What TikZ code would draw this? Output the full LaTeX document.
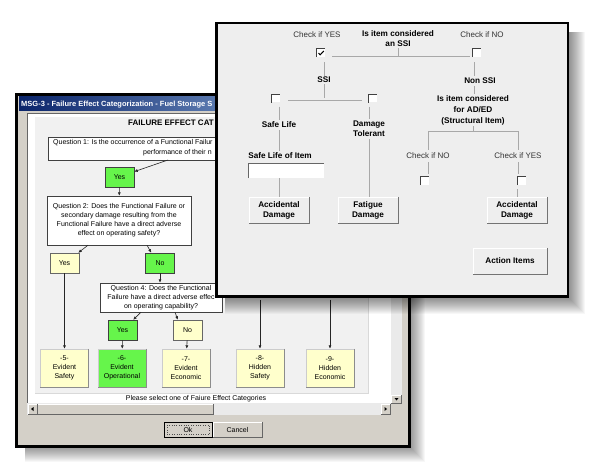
\documentclass[tikz,border=0pt]{standalone}
\usepackage{fontspec}
\setmainfont{Liberation Sans}
\usetikzlibrary{arrows.meta,calc}
\definecolor{wingray}{HTML}{D4D0C8}
\definecolor{panelc}{HTML}{F1F1F1}
\definecolor{frontc}{HTML}{EEEEEE}
\definecolor{gfill}{HTML}{66F54B}
\definecolor{yfill}{HTML}{FFFFCC}
\definecolor{tbdark}{HTML}{0A246A}
\definecolor{tblight}{HTML}{A6CAF0}
\definecolor{conn}{HTML}{A8A8A8}
\definecolor{trk}{HTML}{EAEAEA}
\begin{document}
\begin{tikzpicture}[x=1pt,y=-1pt,
  small/.style={font=\fontsize{7}{9}\selectfont},
  qbox/.style={draw=black!75, fill=white, small, align=center, inner sep=0pt},
  ansg/.style={draw=black!75, fill=gfill, small, minimum width=29pt, minimum height=20pt, inner sep=0pt},
  ansy/.style={draw=black!60, fill=yfill, small, minimum width=29pt, minimum height=20pt, inner sep=0pt},
  catbox/.style={draw=black!20, fill=yfill, small, align=center, minimum width=48pt, minimum height=38pt, inner sep=0pt},
  arr/.style={draw=black!85, line width=0.6pt, -{Latex[length=3.5pt,width=3pt]}},
  chk/.style={font=\fontsize{8}{10}\selectfont, text=black!80, inner sep=0pt},
  lbl/.style={font={\bfseries\fontsize{8.2}{10}\selectfont}, align=center, inner sep=0pt},
  cbox/.style={fill=white, minimum size=8pt, inner sep=0pt},
  btn/.style={fill=frontc, draw=white, font={\bfseries\fontsize{8.2}{10}\selectfont}, align=center, minimum height=26pt, minimum width=60pt, inner sep=0pt},
  sbtn/.style={fill=wingray, draw=white, inner sep=0pt},
  cline/.style={draw=conn, line width=0.7pt},
  bevd/.style={draw=black!55, line width=0.9pt},
]
\useasboundingbox (0,0) rectangle (592,473);
\fill[white] (0,0) rectangle (592,473);

% ---------- back window ----------
\foreach \i in {1,...,14} \fill[black,opacity=0.03] (25,103) rectangle (411+\i,448+\i);
\fill[black] (15,93) rectangle (411,448);
\fill[wingray] (18,96) rectangle (408,445);
\shade[left color=tbdark, right color=tblight] (19,97) rectangle (407,111);
\node[anchor=west, text=white, font={\bfseries\fontsize{7.5}{9}\selectfont}, inner sep=0pt] (ttl) at (21,104.5) {MSG-3 - Failure Effect Categorization - Fuel Storage S};

\fill[white] (27,113) rectangle (402,415);
\draw[black!60] (27,415) -- (27,113) -- (402,113);
\fill[panelc] (35,117) rectangle (368,393);
\draw[black!15] (35,393) -- (368,393) -- (368,117);

\node[anchor=west, font={\bfseries\fontsize{8}{9.6}\selectfont}, inner sep=0pt] (ft) at (128,123) {FAILURE EFFECT CAT};

\node[qbox, minimum width=220pt, minimum height=23pt, anchor=north west] (q1) at (48,137) {};
\node[small, anchor=west, inner sep=0pt] (q1a) at (53,143) {Question 1: Is the occurrence of a Functional Failur};
\node[small, anchor=west, inner sep=0pt] (q1b) at (143,152.5) {performance of their n};
\coordinate (q1o) at (168,160);

\node[ansg] (y1) at (119.5,177) {Yes};
\node[qbox, minimum width=144pt, minimum height=49pt] (q2) at (119,220.5) {Question 2: Does the Functional Failure or\\secondary damage resulting from the\\Functional Failure have a direct adverse\\effect on operating safety?};
\node[ansy] (y2) at (64.5,263) {Yes};
\node[ansg] (n2) at (160,263) {No};
\node[qbox, minimum width=122pt, minimum height=29pt] (q4) at (161,297.5) {Question 4: Does the Functional\\Failure have a direct adverse effec\\on operating capability?};
\node[ansg] (y4) at (122.5,330) {Yes};
\node[ansy] (n4) at (187.5,330) {No};

\node[catbox] (c5) at (64.5,368) {-5-\\Evident\\Safety};
\node[catbox, fill=gfill] (c6) at (122,368) {-6-\\Evident\\Operational};
\node[catbox] (c7) at (186,368) {-7-\\Evident\\Economic};
\node[catbox] (c8) at (260,368) {-8-\\Hidden\\Safety};
\node[catbox] (c9) at (330,368) {-9-\\Hidden\\Economic};
\foreach \n in {c5,c6,c7,c8,c9} \draw[draw=black!45, line width=1pt] (\n.north east) -- (\n.south east) -- (\n.south west);

\coordinate (t8) at (260,300);
\coordinate (t9) at (330,300);
\draw[arr] (q1o) -- (y1.20);
\draw[arr] (y1) -- (q2);
\draw[arr] ([xshift=-31pt]q2.south) -- ([xshift=-1pt]y2.north east);
\draw[arr] ([xshift=28pt]q2.south) -- ([xshift=6pt]n2.north west);
\draw[arr] (y2) -- (c5);
\draw[arr] (n2) -- (n2 |- q4.north);
\draw[arr] ([xshift=-20pt]q4.south) -- ([xshift=-4pt]y4.north east);
\draw[arr] ([xshift=14pt]q4.south) -- ([xshift=5pt]n4.north west);
\draw[arr] (y4) -- (c6);
\draw[arr] (n4) -- (c7);
\draw[arr] (t8) -- (c8);
\draw[arr] (t9) -- (c9);

\node[small, inner sep=0pt] (ps) at (196,398.5) {Please select one of Faiure Effect Categories};

% scrollbars
\fill[trk] (391,113) rectangle (402,403);
\fill[trk] (27,403) rectangle (391,415);
\fill[wingray] (391,403) rectangle (402,415);
\node[sbtn, minimum width=10pt, minimum height=8pt] (dn) at (396.5,399) {};
\node[sbtn, minimum width=9pt, minimum height=10pt] (lb) at (32.5,409) {};
\node[sbtn, minimum width=176pt, minimum height=10pt] (th) at (125,409) {};
\node[sbtn, minimum width=9pt, minimum height=10pt] (rb) at (385.5,409) {};
\foreach \n in {dn,lb,th,rb} \draw[black!60, line width=0.8pt] (\n.north east) -- (\n.south east) -- (\n.south west);
\fill[black] ($(dn.center)+(-2,-1)$) -- ($(dn.center)+(2,-1)$) -- ($(dn.center)+(0,1.5)$) -- cycle;
\fill[black] ($(lb.center)+(1,-2)$) -- ($(lb.center)+(1,2)$) -- ($(lb.center)+(-1.5,0)$) -- cycle;
\fill[black] ($(rb.center)+(-1,-2)$) -- ($(rb.center)+(-1,2)$) -- ($(rb.center)+(1.5,0)$) -- cycle;

% buttons
\node[sbtn, draw=black, minimum width=48pt, minimum height=15pt, small] (ok) at (188,429.5) {Ok};
\draw[black!70, dotted] ($(ok.north west)+(3,3)$) rectangle ($(ok.south east)+(-3,-3)$);
\node[sbtn, minimum width=49pt, minimum height=15pt, small] (cc) at (237.5,429.5) {Cancel};
\draw[black!60, line width=0.8pt] (cc.north east) -- (cc.south east) -- (cc.south west);

% ---------- front window ----------
\foreach \i in {1,...,16} \fill[black,opacity=0.03] (225,32) rectangle (569+\i,298+\i);
\fill[black] (215,22) rectangle (569,298);
\fill[frontc] (217.5,24.5) rectangle (566.5,295.5);

\node[chk] (cy) at (317,35) {Check if YES};
\node[lbl] (qs) at (398,39) {Is item considered\\an SSI};
\node[chk] (cn) at (482,35) {Check if NO};
\node[cbox] (cb1) at (321,53) {};
\node[cbox] (cb2) at (477,53) {};
\coordinate (hl) at ($(cb1.east)+(7,3)$);
\draw[cline] (hl) -- ($(cb2.west)+(-3,3)$);
\draw[cline] ($(qs.south)+(0,1)$) -- (qs.south |- hl);

\node[lbl] (ssi) at (324,80) {SSI};
\draw[cline] ($(ssi.north |- cb1.south)+(0,5)$) -- ($(ssi.north)+(0,-1)$);
\node[cbox] (cb3) at (276,98.5) {};
\node[cbox] (cb4) at (373,98.5) {};
\coordinate (hj) at ($(ssi.south)+(0,15)$);
\draw[cline] ($(ssi.south)+(0,1)$) -- (hj);
\draw[cline] ($(cb3.east)+(8,1.5)$) -- ($(cb4.west)+(-7,1.5)$);

\node[lbl] (sl) at (279,125) {Safe Life};
\draw[cline] ($(sl.north |- cb3.south)+(0,4)$) -- ($(sl.north)+(0,-2)$);
\node[lbl] (dt) at (369,129) {Damage\\Tolerant};
\draw[cline] ($(dt.north |- cb4.south)+(0,4)$) -- ($(dt.north)+(0,-2)$);
\node[lbl] (sli) at (280,156) {Safe Life of Item};
\draw[cline] ($(sl.south)+(0,2)$) -- ($(sl.south |- sli.north)+(0,-2)$);

\node[fill=white, minimum width=75pt, minimum height=14pt, inner sep=0pt] (tf) at (286.5,171) {};
\draw[black!60, line width=0.8pt] (tf.south west) -- (tf.north west) -- (tf.north east);

\node[btn] (ad1) at (279,210) {Accidental\\Damage};
\node[btn] (fd) at (368,210) {Fatigue\\Damage};
\node[btn] (ad2) at (517,210) {Accidental\\Damage};
\node[btn, minimum width=74pt] (ai) at (510,261) {Action Items};
\foreach \n in {ad1,fd,ad2,ai} \draw[black!55, line width=1pt] (\n.north east) -- (\n.south east) -- (\n.south west);

\draw[cline] (sl.south |- tf.south) -- (sl.south |- ad1.north);
\draw[cline] ($(dt.south)+(0,2)$) -- (dt.south |- fd.north);

\node[lbl] (ns) at (480,81) {Non SSI};
\draw[cline] ($(cb2.south)+(-3,5)$) -- ($(ns.north)+(-6,-2)$);
\node[lbl, font={\bfseries\fontsize{8.2}{11}\selectfont}] (ist) at (473,110) {Is item considered\\for AD/ED\\(Structural Item)};
\draw[cline] ($(ns.south)+(-6,2)$) -- ($(ist.north)+(1,-1)$);
\node[chk] (cn2) at (428,156) {Check if NO};
\node[chk] (cy2) at (518,156) {Check if YES};
\coordinate (hb) at ($(ist.south)+(0,6)$);
\draw[cline] ($(ist.south)+(0,1)$) -- (hb);
\draw[cline] (cn2.north |- hb) -- (cy2.north |- hb);
\draw[cline] (cn2.north |- hb) -- ($(cn2.north)+(0,-3)$);
\draw[cline] (cy2.north |- hb) -- ($(cy2.north)+(0,-3)$);
\node[cbox] (cb5) at (425,181) {};
\node[cbox] (cb6) at (522,181) {};
\draw[cline] ($(cn2.south)+(0,3)$) -- ($(cn2.south |- cb5.north)+(0,-3)$);
\draw[cline] ($(cy2.south)+(0,3)$) -- ($(cy2.south |- cb6.north)+(0,-3)$);
\draw[cline] ($(ad2.north |- cb6.south)+(0,4)$) -- (ad2.north);

\foreach \n in {cb1,cb2,cb3,cb4,cb5,cb6} \draw[black!75, line width=0.9pt] (\n.south west) -- (\n.north west) -- (\n.north east);
\draw[black, line width=1pt] ($(cb1.center)+(-2.5,0)$) -- ($(cb1.center)+(-0.8,1.8)$) -- ($(cb1.center)+(2.8,-2)$);
\end{tikzpicture}
\end{document}
